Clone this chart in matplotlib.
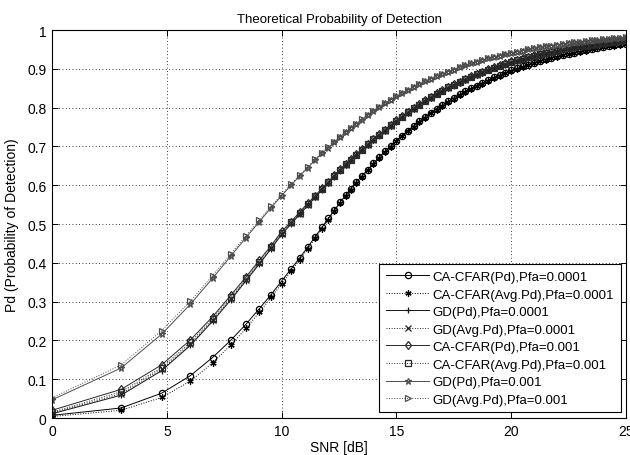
import matplotlib
matplotlib.use("Agg")
import matplotlib.pyplot as plt
from matplotlib.ticker import FuncFormatter

plt.rcParams["font.family"] = ["Liberation Sans", "DejaVu Sans"]
plt.rcParams["font.size"] = 9.5

snr_db = [0, 3.01, 4.77, 6.02, 6.99, 7.78, 8.45, 9.03, 9.54, 10.0,
          10.41, 10.79, 11.14, 11.46, 11.76, 12.04, 12.30, 12.55, 12.79, 13.01,
          13.25, 13.5, 13.75, 14.0, 14.25, 14.5, 14.75, 15.0, 15.25, 15.5,
          15.75, 16.0, 16.25, 16.5, 16.75, 17.0, 17.25, 17.5, 17.75, 18.0,
          18.25, 18.5, 18.75, 19.0, 19.25, 19.5, 19.75, 20.0, 20.25, 20.5,
          20.75, 21.0, 21.25, 21.5, 21.75, 22.0, 22.25, 22.5, 22.75, 23.0,
          23.25, 23.5, 23.75, 24.0, 24.25, 24.5, 24.75, 25.0]

ca_pd_1e4 = [0.007, 0.026, 0.064, 0.109, 0.156, 0.200, 0.242, 0.282, 0.318, 0.353,
             0.384, 0.413, 0.441, 0.467, 0.492, 0.515, 0.536, 0.556, 0.574, 0.591,
             0.608, 0.624, 0.640, 0.656, 0.672, 0.687, 0.701, 0.715, 0.728, 0.741,
             0.753, 0.765, 0.776, 0.787, 0.797, 0.807, 0.816, 0.825, 0.834, 0.842,
             0.850, 0.857, 0.864, 0.871, 0.878, 0.884, 0.890, 0.896, 0.901, 0.906,
             0.911, 0.916, 0.921, 0.925, 0.929, 0.932, 0.936, 0.939, 0.942, 0.945,
             0.948, 0.951, 0.954, 0.956, 0.959, 0.961, 0.963, 0.965]
ca_avg_1e4 = [0.004, 0.020, 0.053, 0.095, 0.142, 0.188, 0.231, 0.273, 0.311, 0.346,
              0.378, 0.408, 0.436, 0.463, 0.488, 0.511, 0.533, 0.553, 0.571, 0.588,
              0.605, 0.622, 0.638, 0.654, 0.670, 0.685, 0.699, 0.713, 0.726, 0.739,
              0.751, 0.763, 0.774, 0.785, 0.795, 0.805, 0.814, 0.823, 0.832, 0.840,
              0.848, 0.855, 0.862, 0.869, 0.876, 0.882, 0.888, 0.894, 0.899, 0.904,
              0.909, 0.914, 0.919, 0.923, 0.927, 0.931, 0.935, 0.938, 0.941, 0.944,
              0.947, 0.950, 0.953, 0.955, 0.958, 0.960, 0.962, 0.964]
gd_pd_1e4 = [0.011, 0.059, 0.122, 0.187, 0.249, 0.304, 0.354, 0.397, 0.436, 0.473,
             0.500, 0.525, 0.548, 0.569, 0.588, 0.605, 0.622, 0.637, 0.652, 0.664,
             0.677, 0.690, 0.703, 0.716, 0.728, 0.740, 0.752, 0.764, 0.775, 0.786,
             0.796, 0.806, 0.816, 0.825, 0.834, 0.842, 0.850, 0.857, 0.864, 0.871,
             0.878, 0.884, 0.890, 0.896, 0.901, 0.906, 0.911, 0.916, 0.920, 0.924,
             0.928, 0.932, 0.936, 0.939, 0.942, 0.945, 0.948, 0.951, 0.954, 0.956,
             0.958, 0.960, 0.962, 0.964, 0.966, 0.968, 0.970, 0.971]
gd_avg_1e4 = [0.013, 0.063, 0.126, 0.190, 0.252, 0.307, 0.357, 0.400, 0.438, 0.475,
              0.502, 0.527, 0.550, 0.570, 0.589, 0.606, 0.623, 0.638, 0.653, 0.665,
              0.678, 0.691, 0.704, 0.717, 0.729, 0.741, 0.753, 0.765, 0.776, 0.787,
              0.797, 0.807, 0.817, 0.826, 0.835, 0.843, 0.851, 0.858, 0.865, 0.872,
              0.879, 0.885, 0.891, 0.897, 0.902, 0.907, 0.912, 0.917, 0.921, 0.925,
              0.929, 0.933, 0.937, 0.940, 0.943, 0.946, 0.949, 0.952, 0.955, 0.957,
              0.959, 0.961, 0.963, 0.965, 0.967, 0.969, 0.971, 0.972]
ca_pd_1e3 = [0.020, 0.074, 0.137, 0.201, 0.261, 0.316, 0.364, 0.407, 0.444, 0.481,
             0.506, 0.531, 0.554, 0.573, 0.592, 0.609, 0.626, 0.641, 0.655, 0.667,
             0.680, 0.693, 0.706, 0.719, 0.731, 0.743, 0.755, 0.767, 0.778, 0.789,
             0.799, 0.809, 0.819, 0.828, 0.837, 0.845, 0.853, 0.860, 0.867, 0.874,
             0.881, 0.887, 0.893, 0.899, 0.904, 0.909, 0.914, 0.919, 0.923, 0.927,
             0.931, 0.935, 0.939, 0.942, 0.945, 0.948, 0.951, 0.954, 0.957, 0.959,
             0.961, 0.963, 0.965, 0.967, 0.969, 0.971, 0.973, 0.974]
ca_avg_1e3 = [0.015, 0.068, 0.130, 0.195, 0.256, 0.311, 0.360, 0.403, 0.441, 0.478,
              0.504, 0.529, 0.552, 0.572, 0.591, 0.608, 0.625, 0.640, 0.654, 0.666,
              0.679, 0.692, 0.705, 0.718, 0.730, 0.742, 0.754, 0.766, 0.777, 0.788,
              0.798, 0.808, 0.818, 0.827, 0.836, 0.844, 0.852, 0.859, 0.866, 0.873,
              0.880, 0.886, 0.892, 0.898, 0.903, 0.908, 0.913, 0.918, 0.922, 0.926,
              0.930, 0.934, 0.938, 0.941, 0.944, 0.947, 0.950, 0.953, 0.956, 0.958,
              0.960, 0.962, 0.964, 0.966, 0.968, 0.970, 0.972, 0.973]
gd_pd_1e3 = [0.047, 0.129, 0.216, 0.293, 0.360, 0.417, 0.465, 0.506, 0.542, 0.573,
             0.600, 0.624, 0.645, 0.665, 0.682, 0.697, 0.711, 0.724, 0.736, 0.747,
             0.758, 0.769, 0.780, 0.791, 0.801, 0.811, 0.820, 0.829, 0.837, 0.845,
             0.853, 0.861, 0.868, 0.874, 0.881, 0.887, 0.893, 0.898, 0.904, 0.909,
             0.914, 0.918, 0.923, 0.927, 0.931, 0.934, 0.938, 0.941, 0.944, 0.947,
             0.950, 0.953, 0.956, 0.958, 0.960, 0.962, 0.964, 0.966, 0.968, 0.970,
             0.972, 0.973, 0.975, 0.976, 0.978, 0.979, 0.980, 0.981]
gd_avg_1e3 = [0.052, 0.137, 0.225, 0.301, 0.367, 0.423, 0.470, 0.510, 0.546, 0.576,
              0.603, 0.626, 0.647, 0.667, 0.684, 0.698, 0.712, 0.725, 0.737, 0.748,
              0.759, 0.770, 0.781, 0.792, 0.802, 0.811, 0.820, 0.829, 0.838, 0.846,
              0.853, 0.861, 0.868, 0.875, 0.881, 0.887, 0.893, 0.898, 0.904, 0.909,
              0.914, 0.918, 0.923, 0.927, 0.931, 0.934, 0.938, 0.941, 0.944, 0.947,
              0.950, 0.953, 0.956, 0.958, 0.960, 0.962, 0.964, 0.966, 0.968, 0.970,
              0.972, 0.973, 0.975, 0.976, 0.978, 0.979, 0.980, 0.981]

asterisk = (6, 2, 0)

# (label, values, color, linestyle, marker)
series = [
    ("CA-CFAR(Pd),Pfa=0.0001", ca_pd_1e4, "#000000", "-", "o"),
    ("CA-CFAR(Avg.Pd),Pfa=0.0001", ca_avg_1e4, "#000000", ":", asterisk),
    ("GD(Pd),Pfa=0.0001", gd_pd_1e4, "#141414", "-", "+"),
    ("GD(Avg.Pd),Pfa=0.0001", gd_avg_1e4, "#222222", ":", "x"),
    ("CA-CFAR(Pd),Pfa=0.001", ca_pd_1e3, "#2a2a2a", "-", "d"),
    ("CA-CFAR(Avg.Pd),Pfa=0.001", ca_avg_1e3, "#2a2a2a", ":", "s"),
    ("GD(Pd),Pfa=0.001", gd_pd_1e3, "#4d4d4d", "-", "*"),
    ("GD(Avg.Pd),Pfa=0.001", gd_avg_1e3, "#4d4d4d", ":", ">"),
]

fig = plt.figure(figsize=(6.3, 4.56), dpi=100)
ax = fig.add_axes([0.0826, 0.081, 0.911, 0.851])

for label, vals, col, ls, mk in series:
    ax.plot(snr_db, vals, color=col, linestyle=ls, linewidth=0.7,
            marker=mk, markersize=4.5, markerfacecolor="none",
            markeredgecolor=col, markeredgewidth=0.9, label=label)

ax.set_xlim(0, 25)
ax.set_ylim(0, 1)
ax.set_xticks([0, 5, 10, 15, 20, 25])
ax.set_yticks([0, 0.1, 0.2, 0.3, 0.4, 0.5, 0.6, 0.7, 0.8, 0.9, 1])
ax.yaxis.set_major_formatter(FuncFormatter(lambda v, p: "%g" % round(v, 1)))
ax.grid(True, color="black", linestyle=(0, (1, 3)), linewidth=0.6)
ax.tick_params(direction="in", top=True, right=True, length=4, width=0.7,
               labelsize=10, pad=4)
for s in ax.spines.values():
    s.set_linewidth(0.8)

ax.set_title("Theoretical Probability of Detection", fontsize=9.5, pad=6)
ax.set_xlabel("SNR [dB]", fontsize=10, labelpad=2)
ax.set_ylabel("Pd (Probability of Detection)", fontsize=10, labelpad=6)

leg = ax.legend(loc="lower right", bbox_to_anchor=(0.991, 0.015), borderaxespad=0,
                fancybox=False, framealpha=1, edgecolor="black", numpoints=1,
                handlelength=3.3, handletextpad=0.25, labelspacing=0.4, borderpad=0.5)
leg.get_frame().set_linewidth(0.8)

plt.savefig("out.png", dpi=100)
